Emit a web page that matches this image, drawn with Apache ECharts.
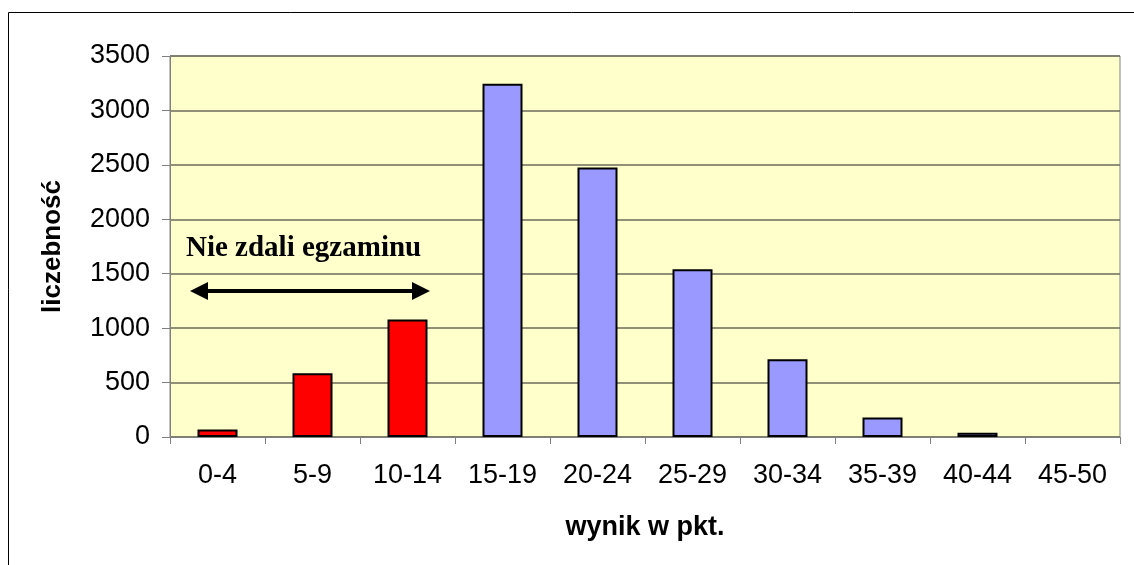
<!DOCTYPE html>
<html>
<head>
<meta charset="utf-8">
<script src="https://cdn.jsdelivr.net/npm/echarts@6/dist/echarts.min.js"></script>
<style>
  html, body { margin: 0; padding: 0; background: #fff; }
  #chart { width: 1134px; height: 565px; }
</style>
</head>
<body>
<div id="chart"></div>
<script>
// przedziały punktowe i liczebności
var categories = ['0-4', '5-9', '10-14', '15-19', '20-24', '25-29', '30-34', '35-39', '40-44', '45-50'];
var counts = [70, 585, 1080, 3245, 2475, 1540, 715, 180, 40, 0];
var failedCount = 3; // pierwsze 3 przedziały - nie zdali
var yTicks = [0, 500, 1000, 1500, 2000, 2500, 3000, 3500];

var chart = echarts.init(document.getElementById('chart'));

var seriesData = counts.map(function (v, i) {
  return {
    value: v,
    itemStyle: {
      color: i < failedCount ? '#FF0000' : '#9999FF',
      borderWidth: v > 0 ? 2 : 0
    }
  };
});

var font = '"Liberation Sans", Arial, sans-serif';

var option = {
  animation: false,
  grid: {
    left: 170, right: 14, top: 56, bottom: 128,
    show: true,
    backgroundColor: '#FFFFCC',
    borderColor: '#808080',
    borderWidth: 1
  },
  xAxis: {
    type: 'category',
    data: categories,
    boundaryGap: true,
    axisLine: { lineStyle: { color: '#808080', width: 1 } },
    axisTick: { show: true, length: 7, lineStyle: { color: '#808080' } },
    axisLabel: { color: '#000', fontFamily: font, fontSize: 27, margin: 25 },
    name: 'wynik w pkt.',
    nameLocation: 'middle',
    nameGap: 77,
    nameTextStyle: { color: '#000', fontFamily: font, fontSize: 27, fontWeight: 'bold' }
  },
  yAxis: {
    type: 'value',
    min: yTicks[0],
    max: yTicks[yTicks.length - 1],
    interval: 500,
    axisLine: { show: true, lineStyle: { color: '#808080', width: 1 } },
    axisTick: { show: true, length: 8, lineStyle: { color: '#808080' } },
    axisLabel: {
      color: '#000', fontFamily: font, fontSize: 27, margin: 20,
      formatter: function (v) { return String(v); }
    },
    splitLine: { show: true, lineStyle: { color: '#6b6b5a', width: 1.5 } },
    name: 'liczebność',
    nameLocation: 'middle',
    nameGap: 104,
    nameTextStyle: { color: '#000', fontFamily: font, fontSize: 26, fontWeight: 'bold' }
  },
  series: [{
    type: 'bar',
    data: seriesData,
    barWidth: 40,
    itemStyle: { borderColor: '#000', borderWidth: 2 }
  }],
  graphic: [
    {
      type: 'rect',
      shape: { x: 8.5, y: 12.5, width: 1200, height: 600 },
      style: { fill: null, stroke: '#000', lineWidth: 1 },
      silent: true
    },
    {
      type: 'text',
      left: 186, top: 234,
      style: {
        text: 'Nie zdali egzaminu',
        font: 'bold 29px "Liberation Serif", "Times New Roman", serif',
        fill: '#000'
      }
    },
    {
      type: 'line',
      shape: { x1: 200, y1: 291, x2: 420, y2: 291 },
      style: { stroke: '#000', lineWidth: 4 }
    },
    {
      type: 'polygon',
      shape: { points: [[190, 291], [208, 282], [208, 300]] },
      style: { fill: '#000' }
    },
    {
      type: 'polygon',
      shape: { points: [[430, 291], [412, 282], [412, 300]] },
      style: { fill: '#000' }
    }
  ]
};

chart.setOption(option);
</script>
</body>
</html>
